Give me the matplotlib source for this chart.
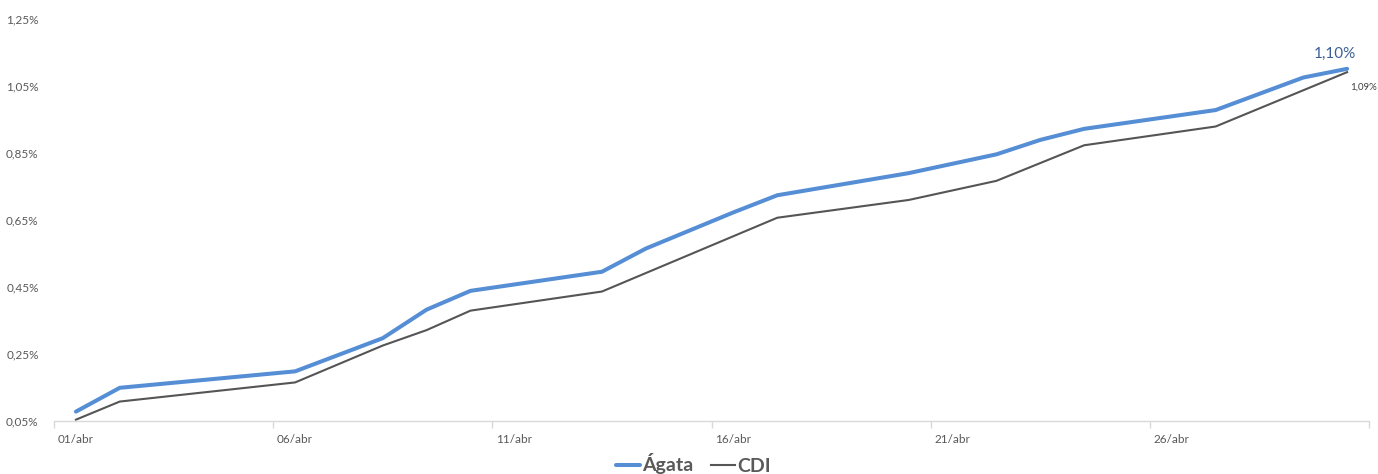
import matplotlib
matplotlib.use('Agg')
import matplotlib.pyplot as plt
from matplotlib.ticker import FixedLocator, FuncFormatter

plt.rcParams['font.family'] = ['Lato', 'DejaVu Sans']

# Rentabilidade acumulada em abril (%)
dias_agata = [1, 2, 6, 8, 9, 10, 13, 14, 15, 16, 17, 20, 22, 23, 24, 27, 29, 30]
agata = [0.078, 0.149, 0.198, 0.297, 0.382, 0.438, 0.495, 0.564, 0.618, 0.672,
         0.723, 0.789, 0.845, 0.888, 0.921, 0.977, 1.074, 1.10]

dias_cdi = [1, 2, 6, 8, 9, 10, 13, 17, 20, 22, 24, 27, 30]
cdi = [0.054, 0.108, 0.165, 0.275, 0.321, 0.379, 0.436, 0.656, 0.709, 0.766,
       0.872, 0.928, 1.09]

dias_rotulo = [1, 6, 11, 16, 21, 26]
y_ticks = [0.05, 0.25, 0.45, 0.65, 0.85, 1.05, 1.25]

cor_agata = '#558ed5'
cor_cdi = '#555555'
cinza = '#595959'

fig = plt.figure(figsize=(13.78, 4.74), dpi=100)
ax = fig.add_axes([0.0392, 0.1118, 0.9543, 0.8492])

ax.plot(dias_agata, agata, color=cor_agata, lw=2.9, label='Ágata',
        solid_joinstyle='round', solid_capstyle='round')
ax.plot(dias_cdi, cdi, color=cor_cdi, lw=1.5, label='CDI',
        solid_joinstyle='round')

ax.set_xlim(0.5, 30.5)
ax.set_ylim(0.05, 1.25)

for s in ['top', 'right', 'left']:
    ax.spines[s].set_visible(False)
ax.spines['bottom'].set_color('#d9d9d9')
ax.spines['bottom'].set_linewidth(1.0)

ax.xaxis.set_major_locator(FixedLocator(dias_rotulo))
ax.xaxis.set_major_formatter(FuncFormatter(lambda d, p: f'{int(round(d)):02d}/abr'))
ax.xaxis.set_minor_locator(FixedLocator([d - 0.5 for d in dias_rotulo] + [30.5]))
ax.tick_params(axis='x', which='major', length=0, pad=9, labelsize=8.5, labelcolor=cinza)
ax.tick_params(axis='x', which='minor', length=5, width=1, color='#d9d9d9')

ax.yaxis.set_major_locator(FixedLocator(y_ticks))
ax.yaxis.set_major_formatter(FuncFormatter(lambda v, p: f'{v:.2f}%'.replace('.', ',')))
ax.tick_params(axis='y', length=0, pad=11, labelsize=8.5, labelcolor=cinza)

# rótulos do último ponto
ax.annotate(f'{agata[-1]:.2f}%'.replace('.', ','), xy=(dias_agata[-1], agata[-1]),
            xytext=(-8.5, 11), textcoords='offset points', ha='center', va='center',
            fontsize=11, color='#3b5f94', annotation_clip=False)
ax.annotate(f'{cdi[-1]:.2f}%'.replace('.', ','), xy=(dias_cdi[-1], cdi[-1]),
            xytext=(11.5, -11), textcoords='offset points', ha='center', va='center',
            fontsize=7, color='#404040', annotation_clip=False)

leg = ax.legend(loc='center', bbox_to_anchor=(0.503, 1 - 464 / 474),
                bbox_transform=fig.transFigure, ncol=2, frameon=False,
                handlelength=1.25, handletextpad=0.1, columnspacing=0.9,
                prop={'size': 14, 'weight': 'bold'})
for t in leg.get_texts():
    t.set_color(cinza)

fig.savefig('out.png', dpi=100)
